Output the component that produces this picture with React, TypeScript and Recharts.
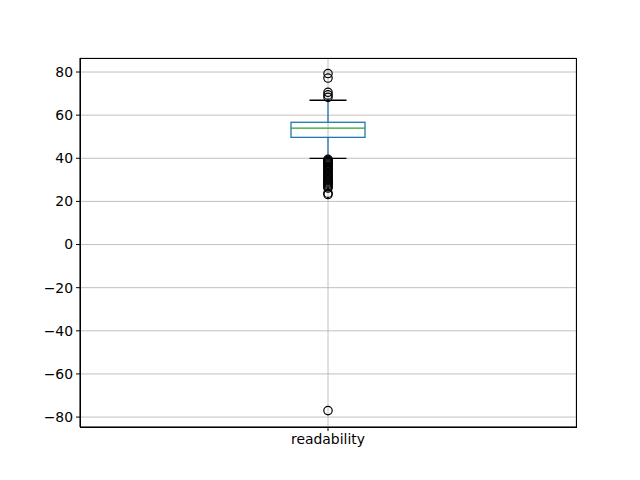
import React from 'react';
import { ComposedChart, Bar, Scatter, XAxis, YAxis, CartesianGrid } from 'recharts';

// box statistics
const categories = ['readability'];
const whiskerLow = [40.0];
const q1 = [49.7];
const median = [54.0];
const q3 = [56.7];
const whiskerHigh = [66.9];

const fliers = [
  79.3, 77.2, 70.6, 69.4, 68.3,
  39.5, 39.0, 38.6, 38.2, 37.8, 37.3, 36.9, 36.4, 36.0, 35.5, 35.0, 34.5, 34.0,
  33.3, 32.8, 32.3, 31.6, 31.0, 30.5, 30.0, 29.5, 29.0, 28.5, 28.0, 27.4, 26.8,
  26.2, 23.8, 23.2,
  -77.0,
];

const yTicks = [-80, -60, -40, -20, 0, 20, 40, 60, 80];

const data = categories.map((name, i) => ({
  name,
  range: [whiskerLow[i], whiskerHigh[i]],
  low: whiskerLow[i],
  q1: q1[i],
  median: median[i],
  q3: q3[i],
  high: whiskerHigh[i],
}));

const flierData = fliers.map((value) => ({ name: categories[0], value }));

const BLUE = '#1f77b4';
const GREEN = '#2ca02c';
const LW = 1.3;

const BoxShape = (props: any) => {
  const { x, y, width, height, payload } = props;
  const top = Math.min(y, y + height);
  const h = Math.abs(height);
  const { low, high } = payload;
  const py = (v: number) => top + ((high - v) / (high - low)) * h;
  const cx = x + width / 2;
  const cap = width / 4;
  return (
    <g>
      <line x1={cx} x2={cx} y1={py(high)} y2={py(payload.q3)} stroke={BLUE} strokeWidth={LW} />
      <line x1={cx} x2={cx} y1={py(payload.q1)} y2={py(low)} stroke={BLUE} strokeWidth={LW} />
      <line x1={cx - cap} x2={cx + cap} y1={py(high)} y2={py(high)} stroke="#000" strokeWidth={LW} />
      <line x1={cx - cap} x2={cx + cap} y1={py(low)} y2={py(low)} stroke="#000" strokeWidth={LW} />
      <rect
        x={x}
        y={py(payload.q3)}
        width={width}
        height={py(payload.q1) - py(payload.q3)}
        fill="none"
        stroke={BLUE}
        strokeWidth={LW}
      />
      <line x1={x} x2={x + width} y1={py(payload.median)} y2={py(payload.median)} stroke={GREEN} strokeWidth={LW} />
    </g>
  );
};

const Flier = (props: any) => (
  <circle cx={props.cx} cy={props.cy} r={4.2} fill="none" stroke="#000" strokeWidth={1.2} />
);

const fmt = (v: number) => (v < 0 ? '\u2212' + Math.abs(v) : String(v));

export default function App() {
  return (
    <div style={{ position: 'absolute', left: 0, top: 0, width: 640, height: 480, background: '#fff' }}>
      <ComposedChart
        width={640}
        height={480}
        data={data}
        margin={{ top: 58, right: 64, bottom: 0, left: 0 }}
        style={{ fontFamily: 'DejaVu Sans', fontSize: 13.9 }}
      >
        <CartesianGrid stroke="#b0b0b0" strokeWidth={0.8} />
        <XAxis
          dataKey="name"
          allowDuplicatedCategory={false}
          height={53}
          tickSize={4}
          tickMargin={3}
          stroke="#000"
          tick={{ fill: '#000' }}
        />
        <YAxis
          type="number"
          domain={[-84.6, 86.5]}
          allowDataOverflow
          ticks={yTicks}
          tickFormatter={fmt}
          width={80}
          tickSize={4}
          tickMargin={3}
          stroke="#000"
          tick={{ fill: '#000' }}
        />
        <Bar dataKey="range" barSize={74} shape={BoxShape} isAnimationActive={false} />
        <Scatter data={flierData} dataKey="value" shape={Flier} isAnimationActive={false} />
      </ComposedChart>
      {/* axes frame (top/right spines) */}
      <div
        style={{
          position: 'absolute',
          left: 80,
          top: 58,
          width: 497,
          height: 370,
          boxSizing: 'border-box',
          border: '1px solid #000',
          pointerEvents: 'none',
        }}
      />
    </div>
  );
}
